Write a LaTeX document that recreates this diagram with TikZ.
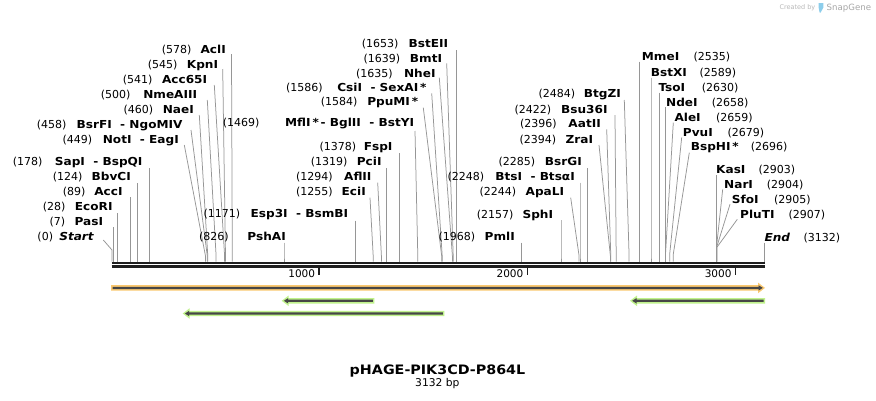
\documentclass[tikz,border=0pt]{standalone}
\usepackage{fontspec}
\setmainfont{DejaVu Sans}
\newfontfamily\namefont{DejaVu Sans}[FakeStretch=1.1]
\definecolor{cutgray}{RGB}{150,150,150}
\definecolor{bbone}{RGB}{30,30,30}
\definecolor{featdark}{RGB}{70,70,70}
\definecolor{featorange}{RGB}{250,200,112}
\definecolor{featgreen}{RGB}{192,242,140}
\definecolor{logogray}{RGB}{185,185,185}
\definecolor{logoblue}{RGB}{140,205,235}
\tikzset{
  postxt/.style={font=\fontsize{11}{13}\selectfont, inner sep=0pt, text=black},
  nametxt/.style={font=\namefont\fontsize{11}{13}\selectfont\bfseries, inner sep=0pt, text=black},
  cutline/.style={draw=cutgray, line width=0.75pt},
  ticktxt/.style={font=\fontsize{10.5}{12}\selectfont, inner sep=0pt, anchor=base east},
  tickline/.style={draw=bbone, line width=1.6pt},
}
% left-type label: #1 pos, #2 name, #3 pos start x, #4 name end x, #5 y centre,
% #6,#7 line start, #8 site x, #9 kink y
\newcommand{\Lsite}[9]{%
  \node[postxt, anchor=base west] (p#1) at (#3,#5+4) {(#1)};
  \node[nametxt, anchor=base east] (n#1) at (#4,#5+4) {#2};
  \coordinate (s#1) at (#8,261.5);
  \draw[cutline] (#6,#7) -- (#8,#9) -- (s#1);
}
% right-type label: #1 pos, #2 name, #3 name start x, #4 pos start x, #5 y centre,
% #6,#7 line start, #8 site x, #9 kink y
\newcommand{\Rsite}[9]{%
  \node[nametxt, anchor=base west] (n#1) at (#3,#5+4) {#2};
  \node[postxt, anchor=base west] (p#1) at (#4,#5+4) {(#1)};
  \coordinate (s#1) at (#8,261.5);
  \draw[cutline] (#6,#7) -- (#8,#9) -- (s#1);
}
% forward feature arrow: #1 x start, #2 x tip, #3 y centre, #4 colour
\newcommand{\fwdfeat}[4]{%
  \fill[#4] (#1,#3-2.7) -- (#2-7,#3-2.7) -- (#2-7,#3-5.3) -- (#2,#3) -- (#2-7,#3+5.3) -- (#2-7,#3+2.7) -- (#1,#3+2.7) -- cycle;
  \fill[featdark] (#1+1.5,#3-1.15) -- (#2-6.5,#3-1.15) -- (#2-6.5,#3-2.7) -- (#2-2.2,#3) -- (#2-6.5,#3+2.7) -- (#2-6.5,#3+1.15) -- (#1+1.5,#3+1.15) -- cycle;
}
% reverse feature arrow: #1 x tip, #2 x end, #3 y centre, #4 colour
\newcommand{\revfeat}[4]{%
  \fill[#4] (#2,#3-2.7) -- (#1+7,#3-2.7) -- (#1+7,#3-5.3) -- (#1,#3) -- (#1+7,#3+5.3) -- (#1+7,#3+2.7) -- (#2,#3+2.7) -- cycle;
  \fill[featdark] (#2-1.5,#3-1.15) -- (#1+6.5,#3-1.15) -- (#1+6.5,#3-2.7) -- (#1+2.2,#3) -- (#1+6.5,#3+2.7) -- (#1+6.5,#3+1.15) -- (#2-1.5,#3+1.15) -- cycle;
}
\begin{document}
\begin{tikzpicture}[x=1pt,y=-1pt]
\useasboundingbox (0,0) rectangle (876,400);
\fill[white] (0,0) rectangle (876,400);

% logo
\node[inner sep=0pt, anchor=base east, text=logogray, font=\fontsize{6.5}{8}\selectfont] (logoa) at (815.5,9.8) {Created by};
\fill[logoblue] (818.6,3.2) -- (823.4,3.2) -- (823.4,7.5) -- (820.6,12.5) -- (819.6,12.5) -- (818.6,7.5) -- cycle;
\node[inner sep=0pt, anchor=base west, text=logogray!90!black, font=\fontsize{8.6}{10}\selectfont] (logob) at (826.5,10.3) {SnapGene};

% backbone
\draw[bbone, line width=2.3pt] (111.7,262.8) -- (765,262.8);
\draw[bbone, line width=2.3pt] (111.7,266.5) -- (765,266.5);

% ticks
\coordinate (t1a) at (319.2,267.2); \coordinate (t1b) at (319.2,274.5);
\coordinate (t2a) at (527.4,267.2); \coordinate (t2b) at (527.4,274.5);
\coordinate (t3a) at (735.6,267.2); \coordinate (t3b) at (735.6,274.5);
\draw[tickline] (t1a) -- (t1b);
\draw[tickline] (t2a) -- (t2b);
\draw[tickline] (t3a) -- (t3b);
\node[ticktxt] (k1) at (315.3,277.3) {1000};
\node[ticktxt] (k2) at (523.5,277.3) {2000};
\node[ticktxt] (k3) at (731.7,277.3) {3000};

% left-side cluster
\Lsite{578}{AclI}{161.7}{226}{49}{231.5}{54}{232.3}{256}
\Lsite{545}{KpnI}{147.7}{218.3}{64}{222.7}{69}{225.5}{256}
\Lsite{541}{Acc65I}{122.7}{207.3}{79}{214.3}{85}{224.6}{256}
\Lsite{500}{NmeAIII}{100.7}{197.3}{94}{207.3}{100}{216.1}{256}
\Lsite{460}{NaeI}{123.3}{194}{109}{199.3}{115}{207.8}{256}
\Lsite{458}{BsrFI\ \ - NgoMIV}{36.7}{182.7}{124}{191}{130}{207.3}{256}
\Lsite{449}{NotI\ \ - EagI}{62.3}{179}{139}{184.3}{145}{205.5}{256}
\Lsite{178}{SapI\ \ - BspQI}{12.7}{142.7}{161.7}{149.1}{168}{149.1}{256}
\Lsite{124}{BbvCI}{52.7}{131}{176.7}{137.8}{183}{137.8}{256}
\Lsite{89}{AccI}{62.7}{122.7}{191.7}{130.5}{197}{130.5}{256}
\Lsite{28}{EcoRI}{42.7}{112.7}{206.7}{117.8}{213}{117.8}{256}
\Lsite{7}{PasI}{49.3}{103.3}{221.7}{113.5}{227}{113.5}{256}
\Lsite{0}{\textit{Start}}{37.3}{94.3}{236.7}{103.3}{240}{112}{250}

% middle cluster
\Lsite{826}{PshAI}{199}{286}{236.7}{284}{242.7}{284}{256}
\Lsite{1171}{Esp3I\ \ - BsmBI}{203.3}{348.3}{213.3}{355.8}{220.7}{355.8}{256}
\Lsite{1255}{EciI}{296}{366}{191.7}{370}{197.7}{373.2}{256}
\Lsite{1294}{AflII}{296}{371.7}{176.7}{377.7}{182.7}{381.4}{256}
\Lsite{1319}{PciI}{310.7}{381.7}{161.7}{386.6}{168}{386.6}{256}
\Lsite{1378}{FspI}{319.3}{392.7}{146.7}{398.9}{153}{398.9}{256}
\Lsite{1469}{MflI\,*\,- BglII\ \ - BstYI}{222.7}{414.3}{122.3}{415}{131}{417.8}{256}
\Lsite{1584}{PpuMI\,*}{320.7}{418.3}{101.7}{423.3}{107.7}{441.7}{256}
\Lsite{1586}{CsiI\ \ - SexAI\,*}{286}{426.7}{87.7}{431.7}{93.3}{442.2}{256}
\Lsite{1635}{NheI}{356}{435.7}{73.3}{439.3}{77.7}{452.4}{256}
\Lsite{1639}{BmtI}{363.3}{442.3}{58.3}{446.7}{63.3}{453.2}{256}
\Lsite{1653}{BstEII}{361.7}{448.3}{43.3}{456.1}{50}{456.1}{256}
\Lsite{1968}{PmlI}{438.3}{515}{236.7}{521.7}{242.7}{521.7}{256}
\Lsite{2157}{SphI}{476.7}{553.3}{214}{561}{220}{561}{256}
\Lsite{2244}{ApaLI}{479.3}{564.3}{191.7}{570.7}{197.7}{579.1}{256}
\Lsite{2248}{BtsI\ \ - BtsαI}{447.3}{575}{176.7}{580}{182.7}{580}{256}
\Lsite{2285}{BsrGI}{498.3}{582}{161.7}{587.7}{168}{587.7}{256}
\Lsite{2394}{ZraI}{519.3}{593.3}{139}{599}{145}{610.4}{256}
\Lsite{2396}{AatII}{520}{601}{123.3}{606.7}{129.3}{610.8}{256}
\Lsite{2422}{Bsu36I}{514.3}{607.7}{109}{615}{115}{616.2}{256}
\Lsite{2484}{BtgZI}{538.3}{621}{93.3}{624.3}{100}{629.1}{256}

% right-side cluster
\Rsite{2535}{MmeI}{641.7}{693.3}{56.7}{639.7}{61.7}{639.7}{256}
\Rsite{2589}{BstXI}{650.7}{699.3}{72.3}{651}{77.7}{651}{256}
\Rsite{2630}{TsoI}{658.3}{701.7}{87.3}{659.5}{92.5}{659.5}{256}
\Rsite{2658}{NdeI}{666}{711.7}{102.3}{665.3}{107}{665.3}{256}
\Rsite{2659}{AleI}{674.3}{716}{117.3}{673.3}{122.7}{665.5}{254}
\Rsite{2679}{PvuI}{682.7}{727.3}{132.3}{681.7}{137.3}{669.7}{254}
\Rsite{2696}{BspHI\,*}{690.7}{750.7}{146.7}{689.3}{152.7}{673.3}{254}
\Rsite{2903}{KasI}{716}{758.3}{169}{716.3}{175}{716.3}{256}
\Rsite{2904}{NarI}{724}{766.7}{184}{722.7}{189.3}{716.5}{247}
\Rsite{2905}{SfoI}{731.7}{774}{199}{730}{204.3}{716.7}{247}
\Rsite{2907}{PluTI}{740}{788.3}{214}{737.3}{219.3}{717.1}{247}
\Rsite{3132}{\textit{End}}{764.3}{803.3}{237.3}{764.3}{242.7}{764.3}{256}

% features
\fwdfeat{111}{765}{287.9}{featorange}
\revfeat{281.7}{374.3}{300.8}{featgreen}
\revfeat{182.7}{444.3}{313.5}{featgreen}
\revfeat{630}{765}{300.8}{featgreen}

% title
\node[inner sep=0pt, anchor=base, font=\namefont\fontsize{13}{16}\selectfont\bfseries] (title) at (437.5,374.3) {pHAGE-PIK3CD-P864L};
\node[inner sep=0pt, anchor=base, font=\fontsize{10.7}{12}\selectfont] (size) at (437.3,386.7) {3132 bp};
\end{tikzpicture}
\end{document}
